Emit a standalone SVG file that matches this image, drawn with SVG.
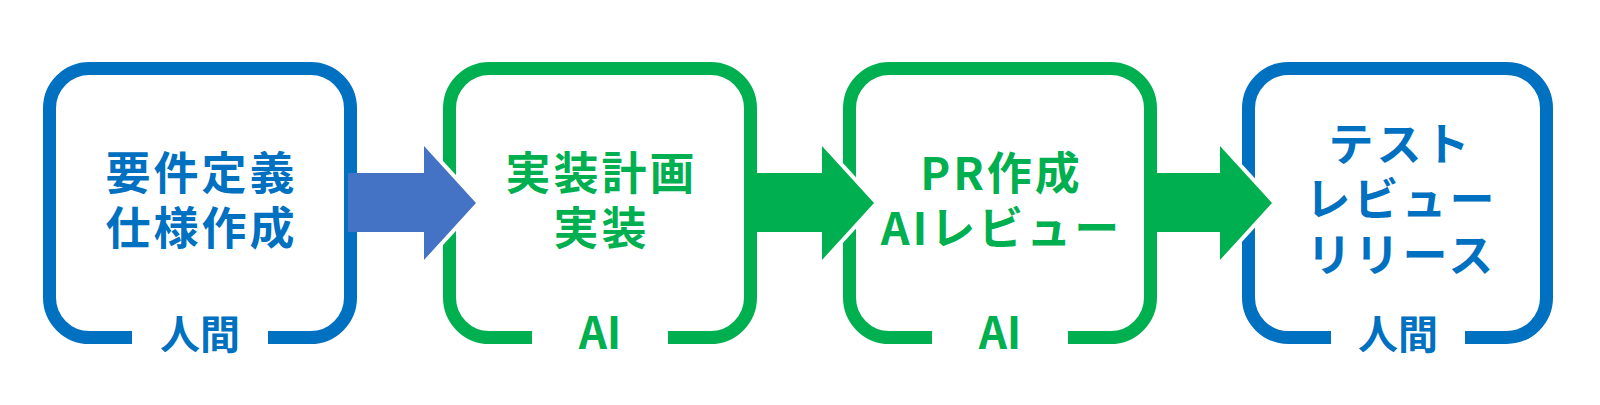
<svg xmlns="http://www.w3.org/2000/svg" width="1600" height="405" viewBox="0 0 1600 405">
<style>
.frame{fill:none;stroke-width:13;stroke-linecap:butt;stroke-linejoin:round}
.blue{stroke:#0070C0}
.green{stroke:#00B050}
.t{font-family:"Noto Sans CJK JP","Noto Sans",sans-serif;font-weight:bold;text-anchor:middle}
.main{font-size:45px;letter-spacing:3px}
.lab{font-size:40px}
.tb{fill:#0070C0}
.tg{fill:#00B050}
.halo{fill:none;stroke:#ffffff;stroke-width:8;stroke-linejoin:miter}
</style>
<rect width="1600" height="405" fill="#ffffff"/>
<g id="node-requirements">
<path class="frame blue" d="M132 337.5H89.5A40 40 0 0 1 49.5 297.5V108.5A40 40 0 0 1 89.5 68.5H310.5A40 40 0 0 1 350.5 108.5V297.5A40 40 0 0 1 310.5 337.5H268"/>
<text class="t main tb" x="201.5" y="190">要件定義</text>
<text class="t main tb" x="201.5" y="245">仕様作成</text>
<text class="t lab tb" x="200" y="349">人間</text>
</g>
<g id="node-implementation">
<path class="frame green" d="M532 337.5H489.5A40 40 0 0 1 449.5 297.5V108.5A40 40 0 0 1 489.5 68.5H710.5A40 40 0 0 1 750.5 108.5V297.5A40 40 0 0 1 710.5 337.5H668"/>
<text class="t main tg" x="601.5" y="190">実装計画</text>
<text class="t main tg" x="601.5" y="245">実装</text>
<text class="t lab tg" x="600" y="349" style="font-size:44px">AI</text>
</g>
<g id="node-pr">
<path class="frame green" d="M932 337.5H889.5A40 40 0 0 1 849.5 297.5V108.5A40 40 0 0 1 889.5 68.5H1110.5A40 40 0 0 1 1150.5 108.5V297.5A40 40 0 0 1 1110.5 337.5H1068"/>
<text class="t main tg" x="1001.5" y="190">PR作成</text>
<text class="t main tg" x="1001.5" y="245">AIレビュー</text>
<text class="t lab tg" x="1000" y="349" style="font-size:44px">AI</text>
</g>
<g id="node-test">
<path class="frame blue" d="M1331 337.5H1288.5A40 40 0 0 1 1248.5 297.5V108.5A40 40 0 0 1 1288.5 68.5H1506.5A40 40 0 0 1 1546.5 108.5V297.5A40 40 0 0 1 1506.5 337.5H1465"/>
<text class="t main tb" x="1400.5" y="161">テスト</text>
<text class="t main tb" x="1401.5" y="216">レビュー</text>
<text class="t main tb" x="1401.5" y="272">リリース</text>
<text class="t lab tb" x="1398" y="349">人間</text>
</g>
<g id="connectors">
<polyline class="halo" points="424,146 476,203 424,260"/>
<polygon fill="#4472C4" points="348,173 424,173 424,146 476,203 424,260 424,232 348,232"/>
<polyline class="halo" points="822,146 874,203 822,260"/>
<polygon fill="#00B050" points="746,173 822,173 822,146 874,203 822,260 822,232 746,232"/>
<polyline class="halo" points="1220,146 1272,203 1220,260"/>
<polygon fill="#00B050" points="1146,173 1220,173 1220,146 1272,203 1220,260 1220,232 1146,232"/>
</g>
</svg>
